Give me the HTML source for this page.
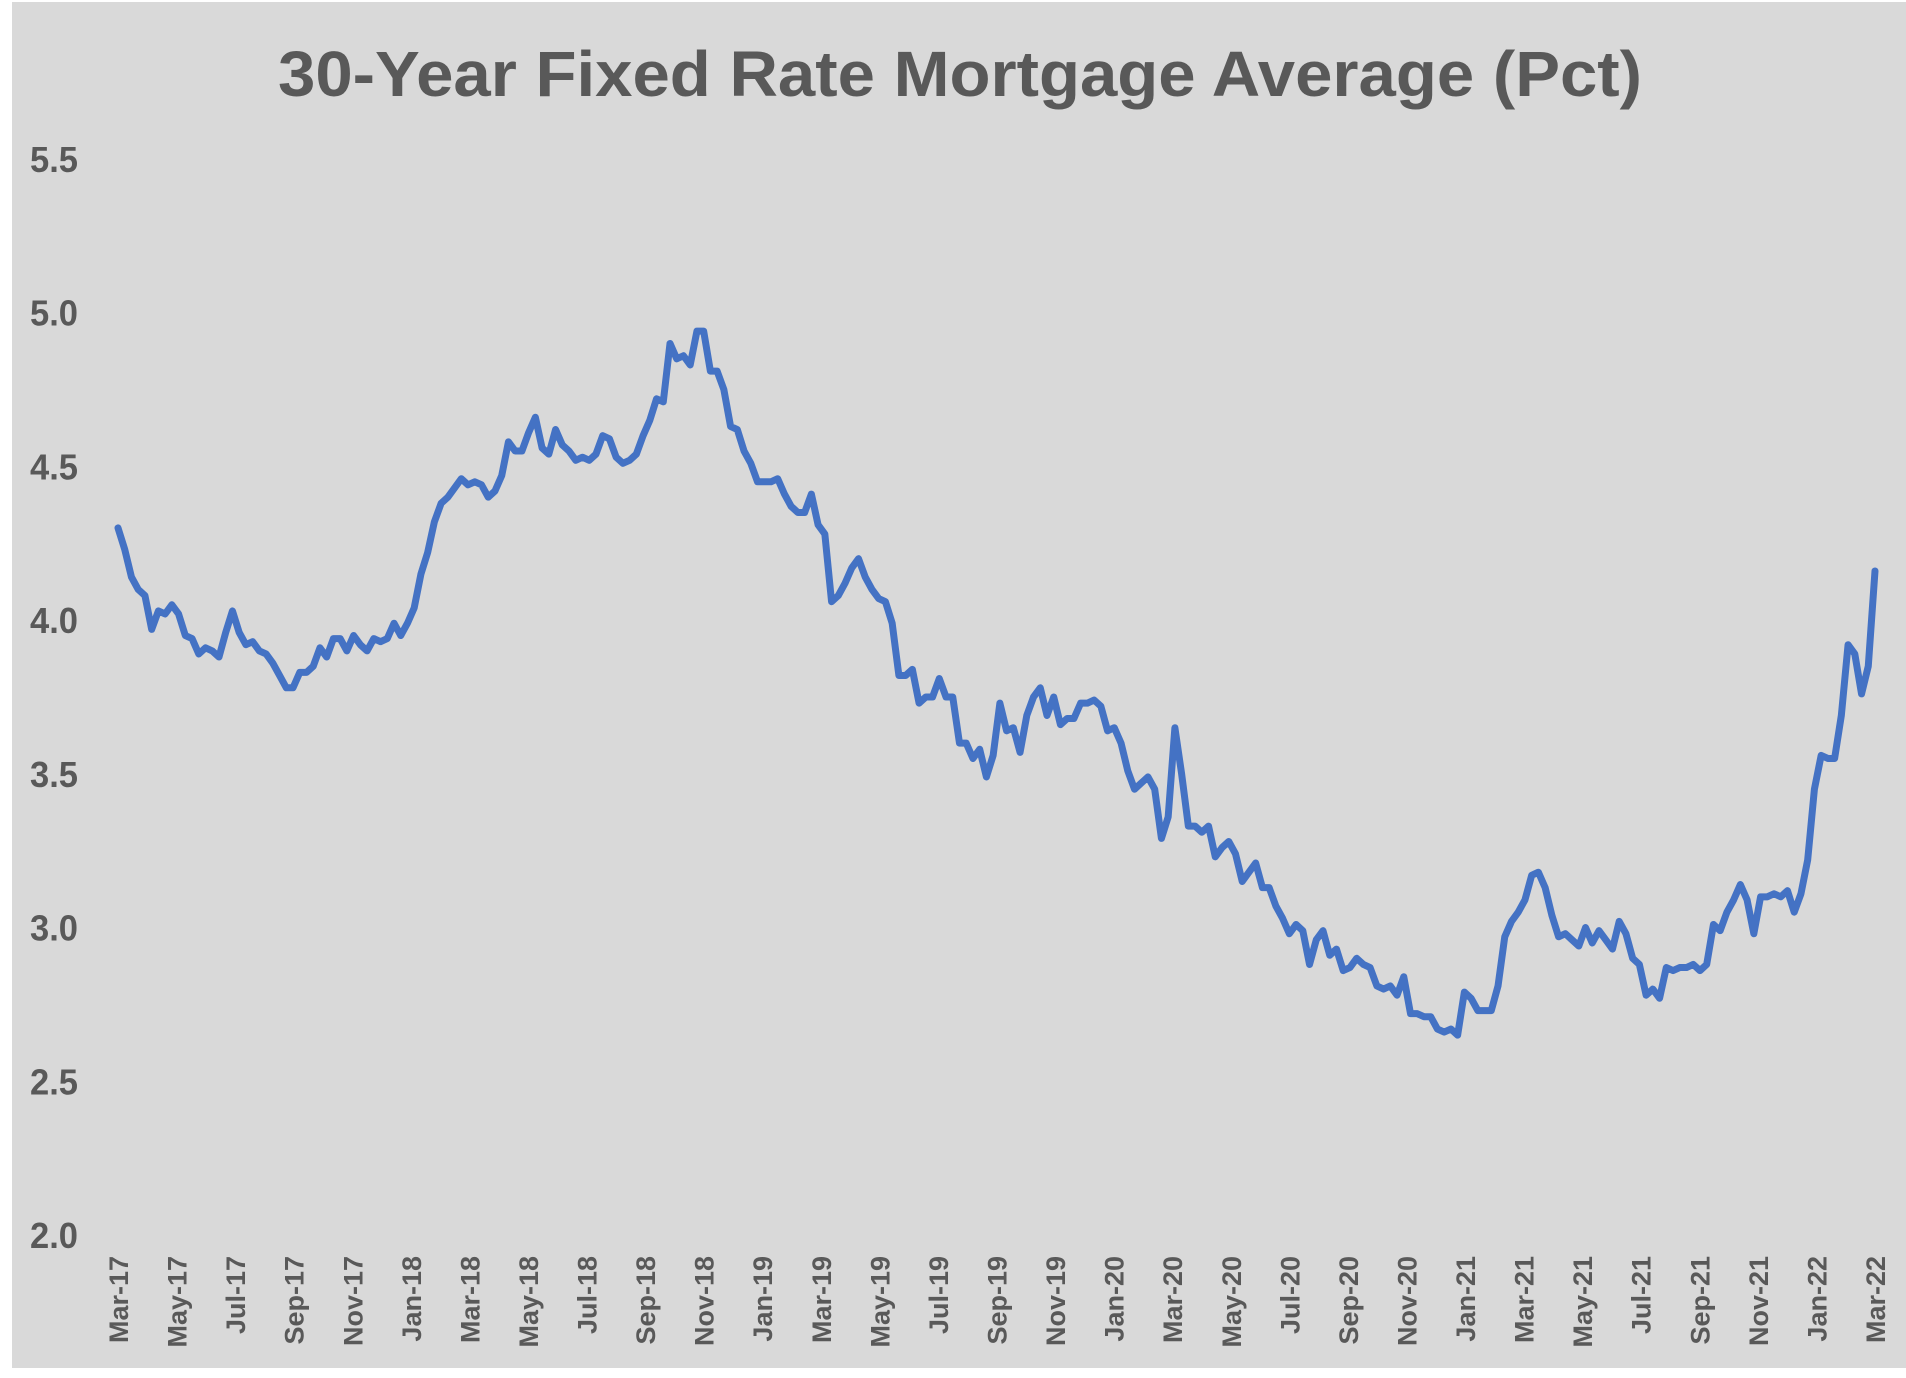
<!DOCTYPE html>
<html><head><meta charset="utf-8"><style>
html,body{margin:0;padding:0;background:#fff;}
svg{display:block;}
text{font-family:"Liberation Sans",sans-serif;font-weight:bold;fill:#595959;}
</style></head><body>
<svg id="chart" width="1906" height="1378" viewBox="0 0 1906 1378" xmlns="http://www.w3.org/2000/svg">
<rect x="12" y="2" width="1894" height="1366" fill="#d9d9d9"/>
<text x="960" y="96" text-anchor="middle" font-size="64" textLength="1364" lengthAdjust="spacingAndGlyphs">30-Year Fixed Rate Mortgage Average (Pct)</text>
<g id="yaxis"></g>
<g id="xaxis"></g>
<g id="series"></g>
</svg>
<script>
const yTicks = [2.0, 2.5, 3.0, 3.5, 4.0, 4.5, 5.0, 5.5];
const xTickLabels = ["Mar-17","May-17","Jul-17","Sep-17","Nov-17","Jan-18","Mar-18","May-18","Jul-18","Sep-18","Nov-18","Jan-19","Mar-19","May-19","Jul-19","Sep-19","Nov-19","Jan-20","Mar-20","May-20","Jul-20","Sep-20","Nov-20","Jan-21","Mar-21","May-21","Jul-21","Sep-21","Nov-21","Jan-22","Mar-22"];
const rates = [4.30,4.23,4.14,4.10,4.08,3.97,4.03,4.02,4.05,4.02,3.95,3.94,3.89,3.91,3.90,3.88,3.96,4.03,3.96,3.92,3.93,3.90,3.89,3.86,3.82,3.78,3.78,3.83,3.83,3.85,3.91,3.88,3.94,3.94,3.90,3.95,3.92,3.90,3.94,3.93,3.94,3.99,
3.95,3.99,4.04,4.15,4.22,4.32,4.38,4.40,4.43,4.46,4.44,4.45,4.44,4.40,4.42,4.47,4.58,4.55,4.55,4.61,4.66,4.56,4.54,4.62,4.57,4.55,4.52,4.53,4.52,4.54,4.60,4.59,4.53,4.51,4.52,4.54,4.60,4.65,4.72,4.71,4.90,4.85,4.86,4.83,4.94,4.94,4.81,4.81,4.75,4.63,4.62,4.55,
4.51,4.45,4.45,4.45,4.46,4.41,4.37,4.35,4.35,4.41,4.31,4.28,4.06,4.08,4.12,4.17,4.20,4.14,4.10,4.07,4.06,3.99,3.82,3.82,3.84,3.73,3.75,3.75,3.81,3.75,3.75,3.60,3.60,3.55,3.58,3.49,3.56,3.73,3.64,3.65,3.57,3.69,3.75,3.78,3.69,3.75,3.66,3.68,3.68,3.73,3.73,3.74,
3.72,3.64,3.65,3.60,3.51,3.45,3.47,3.49,3.45,3.29,3.36,3.65,3.50,3.33,3.33,3.31,3.33,3.23,3.26,3.28,3.24,3.15,3.18,3.21,3.13,3.13,3.07,3.03,2.98,3.01,2.99,2.88,2.96,2.99,2.91,2.93,2.86,2.87,2.90,2.88,2.87,2.81,2.80,2.81,2.78,2.84,2.72,2.72,2.71,2.71,2.67,2.66,2.67,
2.65,2.79,2.77,2.73,2.73,2.73,2.81,2.97,3.02,3.05,3.09,3.17,3.18,3.13,3.04,2.97,2.98,2.96,2.94,3.00,2.95,2.99,2.96,2.93,3.02,2.98,2.90,2.88,2.78,2.80,2.77,2.87,2.86,2.87,2.87,2.88,2.86,2.88,3.01,2.99,3.05,3.09,3.14,3.09,2.98,3.10,3.10,3.11,3.10,3.12,3.05,3.11,
3.22,3.45,3.56,3.55,3.55,3.69,3.92,3.89,3.76,3.85,4.16];

const NS = "http://www.w3.org/2000/svg";
const X0 = 118, X1 = 1875, YMIN = 2.0, YMAX = 5.5, PY0 = 1235, PY1 = 159;
function yScale(v){ return PY0 - (v - YMIN) / (YMAX - YMIN) * (PY0 - PY1); }
function xScale(i, n){ return X0 + i * (X1 - X0) / (n - 1); }

const yg = document.getElementById('yaxis');
yTicks.forEach(v => {
  const t = document.createElementNS(NS, 'text');
  
  
  t.setAttribute('x', 30);
  t.setAttribute('y', yScale(v) + 13);
  t.setAttribute('font-size', 36);
  t.setAttribute('textLength', 48);
  t.setAttribute('lengthAdjust', 'spacingAndGlyphs');
  t.textContent = v.toFixed(1);
  yg.appendChild(t);
});

const xg = document.getElementById('xaxis');
xTickLabels.forEach((lab, i) => {
  const x = xScale(i, xTickLabels.length);
  const t = document.createElementNS(NS, 'text');
  
  
  t.setAttribute('transform', 'translate(' + (x + 10) + ',1256) rotate(-90)');
  t.setAttribute('text-anchor', 'end');
  t.setAttribute('font-size', 27);
  t.textContent = lab;
  xg.appendChild(t);
});

const sg = document.getElementById('series');
let d = '';
rates.forEach((v, i) => {
  d += (i ? 'L' : 'M') + xScale(i, rates.length).toFixed(2) + ',' + yScale(v).toFixed(2);
});
const p = document.createElementNS(NS, 'path');


p.setAttribute('d', d);
p.setAttribute('fill', 'none');
p.setAttribute('stroke', '#4472c4');
p.setAttribute('stroke-width', 7);
p.setAttribute('stroke-linejoin', 'round');
p.setAttribute('stroke-linecap', 'round');
sg.appendChild(p);
</script>
</body></html>
